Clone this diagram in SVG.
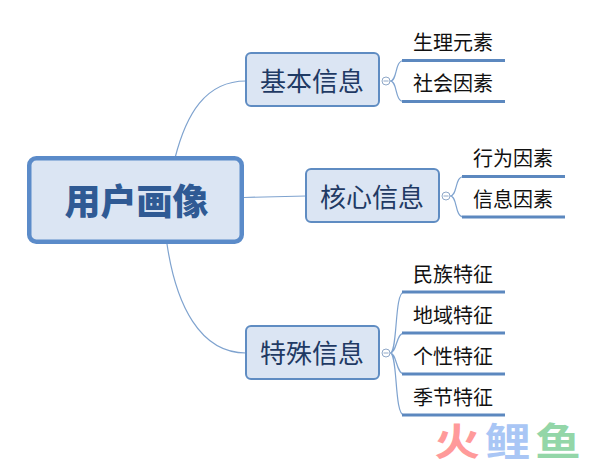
<svg xmlns="http://www.w3.org/2000/svg" width="604" height="464" viewBox="0 0 604 464">
<style>
text{font-family:"Noto Sans CJK SC","Liberation Sans",sans-serif}
.box{fill:#dbe5f3;stroke:#5f8cc2;stroke-width:2}
.main{fill:#dbe5f3;stroke:#5b8bc9;stroke-width:4.5}
.t1{font-size:36px;font-weight:900;fill:#2f5a94;text-anchor:middle}
.t2{font-size:26px;fill:#1f3a64;text-anchor:middle}
.t3{font-size:20px;fill:#111;text-anchor:middle}
.c{fill:none;stroke:#7fa3cf;stroke-width:1.2}
.u{fill:none;stroke:#5c88bf;stroke-width:3}
.o{fill:#fff;stroke:#8fa8c8;stroke-width:1}
.m{stroke:#8fa8c8;stroke-width:1}
text.w{font-family:"Liberation Sans","Noto Sans CJK SC",sans-serif;font-size:38px;font-weight:700;text-anchor:middle}
</style>
<g id="connectors">
<path class="c" d="M175 158C186 115 205 81 246 81"/>
<path class="c" d="M244 197.500L306 196"/>
<path class="c" d="M167 244C176 305 200 353 246 353"/>
<path class="c" d="M390 81C398 81 394 60.500 404 60.500M390 81C398 81 394 101.500 404 101.500"/>
<path class="c" d="M450 196C458 196 454 176.500 464 176.500M450 196C458 196 454 217 464 217"/>
<path class="c" d="M390 353C398 353 394 292 404 292M390 353C397 353 396 333 404 333M390 353C397 353 396 374 404 374M390 353C398 353 394 415 404 415"/>
<path class="u" d="M402 60.500H505M402 101.500H505M462 176.500H565M462 217H565M402 292H505M402 333H505M402 374H505M402 415H505"/>
</g>
<g id="n-main"><rect class="main" x="29.250" y="158.250" width="212.500" height="83.500" rx="7"/><text class="t1" x="136.500" y="215">用户画像</text></g>
<g id="n-basic"><rect class="box" x="246" y="53" width="133" height="53" rx="5"/><text class="t2" x="312" y="90.500">基本信息</text><circle class="o" cx="386" cy="81" r="4"/><path class="m" d="M383.500 81H388.500"/></g>
<g id="n-core"><rect class="box" x="306" y="169" width="133" height="53" rx="5"/><text class="t2" x="372" y="206.500">核心信息</text><circle class="o" cx="446" cy="196" r="4"/><path class="m" d="M443.500 196H448.500"/></g>
<g id="n-special"><rect class="box" x="246" y="326" width="133" height="53" rx="5"/><text class="t2" x="312" y="362.500">特殊信息</text><circle class="o" cx="386" cy="353" r="4"/><path class="m" d="M383.500 353H388.500"/></g>
<g id="n-a1"><text class="t3" x="453" y="50">生理元素</text></g>
<g id="n-a2"><text class="t3" x="453" y="91">社会因素</text></g>
<g id="n-b1"><text class="t3" x="513" y="166">行为因素</text></g>
<g id="n-b2"><text class="t3" x="513" y="207">信息因素</text></g>
<g id="n-c1"><text class="t3" x="453" y="282">民族特征</text></g>
<g id="n-c2"><text class="t3" x="453" y="323">地域特征</text></g>
<g id="n-c3"><text class="t3" x="453" y="364">个性特征</text></g>
<g id="n-c4"><text class="t3" x="453" y="405">季节特征</text></g>
<g id="watermark"><text class="w" transform="translate(457 455) scale(1.2 1)" fill="#ff9a9a">火</text><text class="w" transform="translate(507.500 455) scale(1.2 1)" fill="#a9c6f5">鲤</text><text class="w" transform="translate(558 455) scale(1.2 1)" fill="#93d6a8">鱼</text></g>
</svg>
